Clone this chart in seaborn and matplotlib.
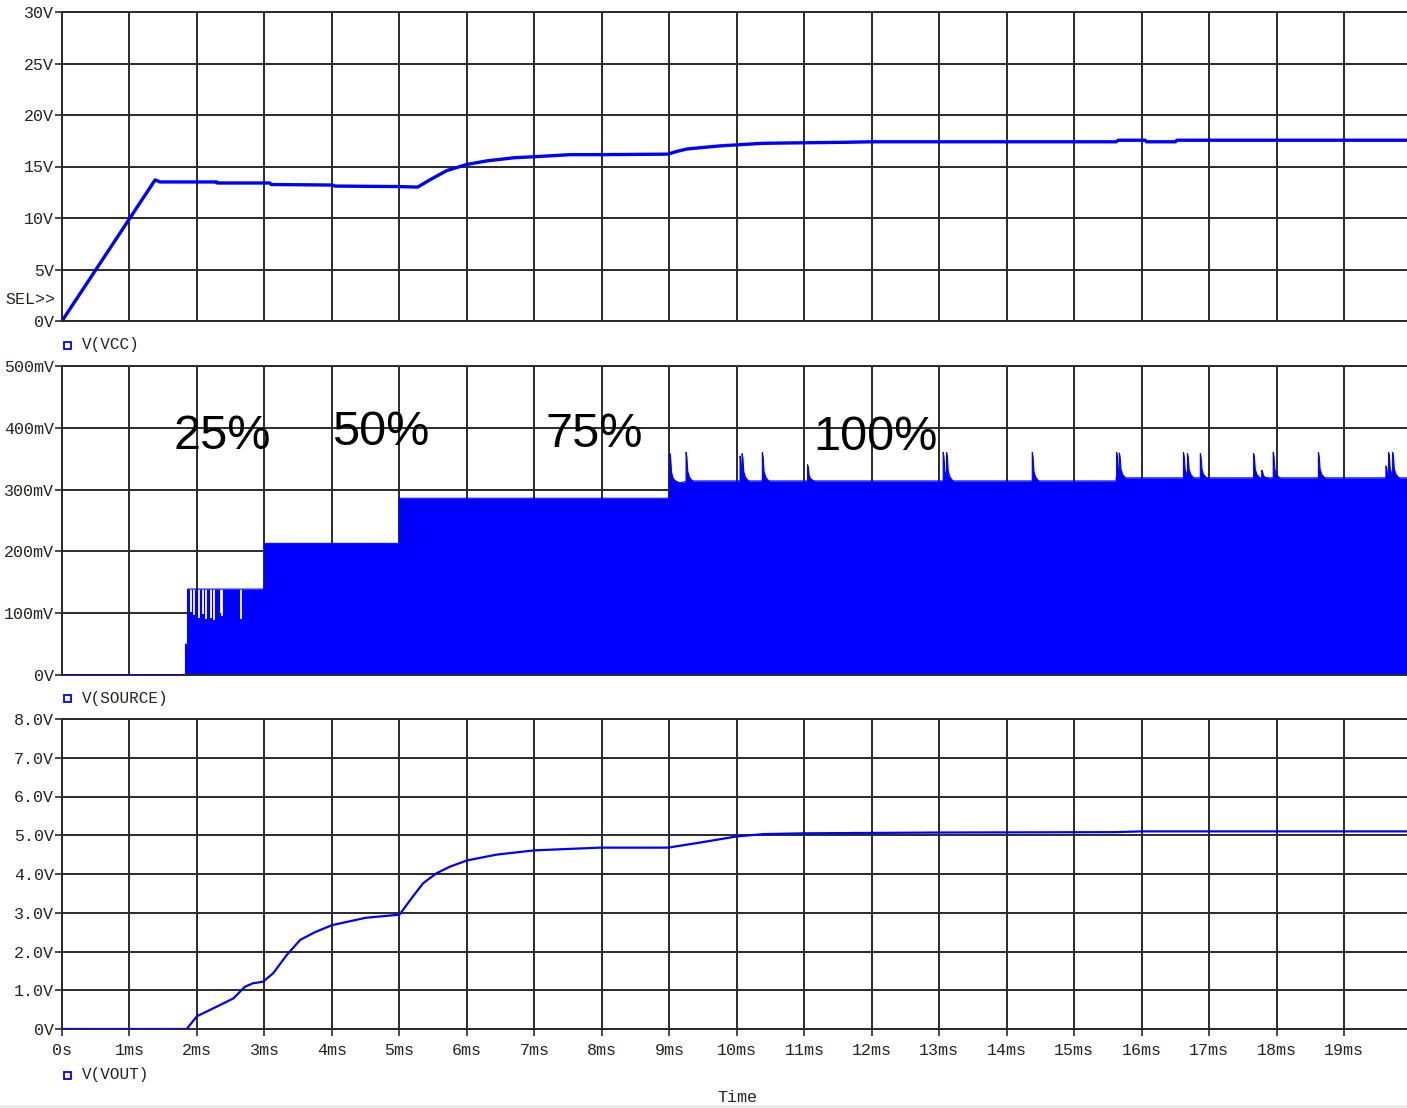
import numpy as np
import pandas as pd
import matplotlib
matplotlib.use("Agg")
import matplotlib.pyplot as plt
import seaborn as sns
from matplotlib.patches import Rectangle

# ---------------- data (time in ms) ----------------
vcc_t = [0.0, 1.38, 1.45, 2.29, 2.30, 3.08, 3.10, 4.0, 4.05, 5.0, 5.27, 5.45, 5.7, 6.0,
         6.3, 6.7, 7.0, 7.53, 8.0, 8.98, 9.1, 9.26, 9.5, 9.75, 10.37, 10.93, 11.6, 12.0,
         13.0, 15.62, 15.65, 16.05, 16.07, 16.5, 16.52, 19.93]
vcc_v = [0.0, 13.7, 13.5, 13.5, 13.4, 13.4, 13.25, 13.2, 13.1, 13.05, 13.0, 13.7, 14.6, 15.2,
         15.55, 15.85, 15.95, 16.15, 16.15, 16.2, 16.45, 16.7, 16.85, 17.0, 17.25, 17.3, 17.35, 17.4,
         17.4, 17.4, 17.55, 17.55, 17.4, 17.4, 17.55, 17.55]

vout_t = [0.0, 1.85, 1.87, 2.0, 2.19, 2.39, 2.54, 2.71, 2.83, 2.98, 3.13, 3.33, 3.53, 3.75,
          4.0, 4.5, 5.0, 5.2, 5.35, 5.55, 5.75, 6.0, 6.44, 7.0, 7.97, 8.98, 9.45, 10.0,
          10.4, 11.0, 13.0, 15.6, 16.0, 19.93]
vout_v = [0.0, 0.0, 0.05, 0.33, 0.49, 0.66, 0.79, 1.09, 1.18, 1.22, 1.44, 1.91, 2.3, 2.5,
          2.68, 2.87, 2.95, 3.42, 3.76, 4.02, 4.19, 4.35, 4.5, 4.61, 4.68, 4.68, 4.81, 4.97,
          5.03, 5.05, 5.07, 5.08, 5.1, 5.1]

# envelope of the switching V(SOURCE) waveform, mV
src_t = [0.0, 1.83, 1.83, 1.86, 1.86, 3.0, 3.0, 5.0, 5.0, 9.0, 9.0, 9.05, 9.15, 9.3,
         15.62, 15.62, 19.93]
src_mv = [0, 0, 50, 50, 139, 139, 213, 213, 286, 286, 321, 316, 311, 314,
          314, 319, 319]

# white gaps in the 25% region
gap_t = [1.91, 1.96, 2.03, 2.09, 2.14, 2.21, 2.25, 2.35, 2.37, 2.65]
gap_mv = [102, 97, 92, 98, 91, 93, 89, 100, 95, 90]
gap_top = 139

# ringing spikes in the 100% region
spike_t = [9.0, 9.24, 10.04, 10.07, 10.37, 11.04, 13.05, 13.10, 14.37, 15.62, 15.66,
           16.61, 16.67, 16.86, 17.65, 17.77, 17.94, 18.61, 19.61, 19.65, 19.71]
spike_mv = [359, 361, 355, 359, 361, 341, 361, 361, 361, 361, 360,
            361, 359, 359, 359, 332, 361, 361, 339, 361, 361]
spike_dt = [0.0, 0.012, 0.025, 0.05, 0.1]
spike_frac = [1.0, 0.85, 0.35, 0.15, 0.0]

x_ticks = list(range(0, 20))
x_labels = ["0s"] + [f"{i}ms" for i in range(1, 20)]
vcc_ticks = [0, 5, 10, 15, 20, 25, 30]
vcc_labels = ["0V", "5V", "10V", "15V", "20V", "25V", "30V"]
src_ticks = [0, 100, 200, 300, 400, 500]
src_labels = ["0V", "100mV", "200mV", "300mV", "400mV", "500mV"]
vout_ticks = [0, 1, 2, 3, 4, 5, 6, 7, 8]
vout_labels = ["0V", "1.0V", "2.0V", "3.0V", "4.0V", "5.0V", "6.0V", "7.0V", "8.0V"]
pct_labels = ["25%", "50%", "75%", "100%"]

# ---------------- style ----------------
sns.set_theme(style="white")
plt.rcParams['font.family'] = ['Liberation Mono', 'DejaVu Sans']
BLUE = "#0000ff"
GRID = "#2a2a2a"
TXT = "#2a2020"

W, H = 1407, 1108
fig = plt.figure(figsize=(W / 100, H / 100), dpi=100)
fig.patch.set_facecolor("white")


def rect(top, bottom):
    return [62 / W, 1 - bottom / H, (W - 62) / W, (bottom - top) / H]


ax1 = fig.add_axes(rect(12, 321))
ax2 = fig.add_axes(rect(366, 675))
ax3 = fig.add_axes(rect(719, 1029))

for ax, ticks, labels, lim in [(ax1, vcc_ticks, vcc_labels, 30),
                               (ax2, src_ticks, src_labels, 500),
                               (ax3, vout_ticks, vout_labels, 8)]:
    ax.set_facecolor("white")
    ax.set_xlim(0, 19.93)
    ax.set_ylim(0, lim)
    ax.set_xticks(x_ticks)
    ax.set_yticks(ticks)
    ax.set_yticklabels(labels, fontsize=12, color=TXT)
    ax.grid(True, color=GRID, linewidth=1.4)
    ax.set_axisbelow(True)
    for s in ["left", "bottom", "top"]:
        ax.spines[s].set_visible(True)
        ax.spines[s].set_color(GRID)
        ax.spines[s].set_linewidth(1.4)
    ax.spines["right"].set_visible(False)
    ax.tick_params(axis="y", length=5, width=1.2, color=GRID, pad=1, left=True)
    ax.set_xlabel("")
    ax.set_ylabel("")

for ax in (ax1, ax2):
    ax.set_xticklabels([])
    ax.tick_params(axis="x", length=0)

ax3.set_xticklabels(x_labels, fontsize=12, color=TXT)
ax3.tick_params(axis="x", length=5, width=1.2, color=GRID, pad=5, bottom=True)

# ---- panel 1: V(VCC)
df_vcc = pd.DataFrame({"t": vcc_t, "v": vcc_v})
sns.lineplot(data=df_vcc, x="t", y="v", ax=ax1, color=BLUE, linewidth=2.4,
             estimator=None, sort=False, zorder=3)

# ---- panel 2: V(SOURCE)
ax2.fill_between(src_t, 0, src_mv, color=BLUE, linewidth=0, zorder=2)
base_of = lambda t: np.interp(t, src_t, src_mv)
for t0, pk in zip(spike_t, spike_mv):
    tt = np.array([t0 + d for d in spike_dt])
    b = base_of(t0 + 0.2)
    yy = np.array([b + f * (pk - b) for f in spike_frac])
    ax2.fill_between(tt, 0, yy, color=BLUE, linewidth=0.8, edgecolor=BLUE, zorder=2)
ax2.vlines(gap_t, gap_mv, gap_top, color="white", linewidth=1.3, zorder=3)
df_src0 = pd.DataFrame({"t": [0.0, 1.83], "v": [0.6, 0.6]})
sns.lineplot(data=df_src0, x="t", y="v", ax=ax2, color=BLUE, linewidth=1.2,
             estimator=None, zorder=4)
df_src = pd.DataFrame({"t": src_t, "v": src_mv})
sns.lineplot(data=df_src, x="t", y="v", ax=ax2, color=BLUE, linewidth=0.8,
             estimator=None, sort=False, zorder=3)

# ---- panel 3: V(VOUT)
df_vout = pd.DataFrame({"t": vout_t, "v": vout_v})
sns.lineplot(data=df_vout, x="t", y="v", ax=ax3, color=BLUE, linewidth=1.6,
             estimator=None, sort=False, zorder=3)

for ax in (ax1, ax2, ax3):
    ax.set_xlabel("")
    ax.set_ylabel("")
    if ax.get_legend():
        ax.get_legend().remove()

# ---- annotations
pct_x = [222, 381, 594, 875]
pct_y = [449, 445, 447, 450]
for lab, px, py in zip(pct_labels, pct_x, pct_y):
    fig.text(px / W, 1 - py / H, lab, ha="center", va="baseline",
             fontsize=35, family=["Liberation Sans", "DejaVu Sans"], color="black")

for lab, py in [("V(VCC)", 345), ("V(SOURCE)", 698), ("V(VOUT)", 1075)]:
    fig.patches.append(Rectangle((64 / W, 1 - (py + 3.5) / H), 6.5 / W, 7 / H,
                                 transform=fig.transFigure, fill=False,
                                 edgecolor=BLUE, linewidth=1.3))
    fig.text(82 / W, 1 - py / H, lab, ha="left", va="center", fontsize=11.5, color=TXT)

fig.text(5 / W, 1 - 299 / H, "SEL>>", ha="left", va="center", fontsize=12, color=TXT)
fig.text(737 / W, 1 - 1097 / H, "Time", ha="center", va="center", fontsize=12, color=TXT)
fig.patches.append(Rectangle((0, 0), 1, 3 / H, transform=fig.transFigure,
                             color="#ececec", linewidth=0))

fig.savefig("out.png", dpi=100)
